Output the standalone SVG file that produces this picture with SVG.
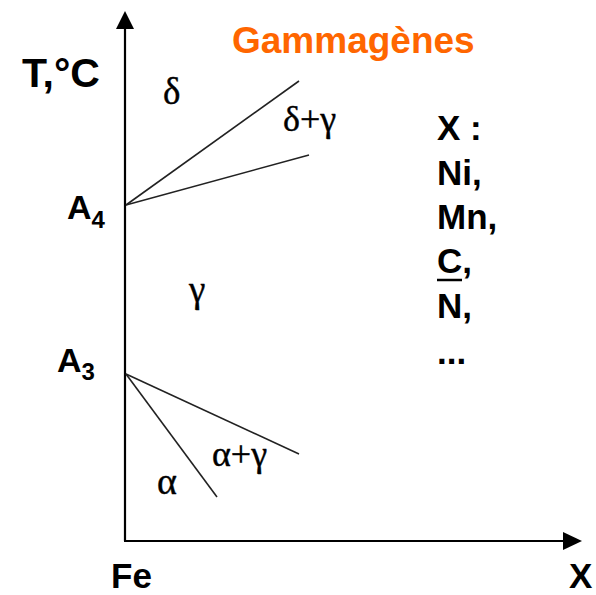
<svg xmlns="http://www.w3.org/2000/svg" width="596" height="595" viewBox="0 0 596 595">
<style>
.b{font-family:"Liberation Sans",Arial,sans-serif;font-weight:bold;fill:#000}
.g{font-family:"Liberation Serif","Times New Roman",serif;fill:#000;stroke:#000;stroke-width:0.4}
.ln{stroke:#222;stroke-width:1.6;fill:none}
.ax{stroke:#000;stroke-width:2.2;fill:none}
</style>
<rect width="596" height="595" fill="#fff"/>
<g id="axes">
<line class="ax" x1="125" y1="541" x2="125" y2="28"/>
<path d="M116,29 L125,11 L134,29 Z" fill="#000"/>
<line class="ax" x1="124" y1="541" x2="564" y2="541" stroke="#333"/>
<path d="M563,532 L582,541 L563,550 Z" fill="#000"/>
</g>
<g id="connectors">
<line class="ln" x1="126" y1="205" x2="299" y2="81"/>
<line class="ln" x1="126" y1="205" x2="309" y2="155"/>
<line class="ln" x1="126" y1="374" x2="299" y2="454"/>
<line class="ln" x1="126" y1="374" x2="217" y2="497"/>
</g>
<g id="title"><text class="b" x="232" y="53" font-size="37" style="fill:#FF6600">Gammagènes</text></g>
<g id="axis-labels">
<text class="b" x="22" y="87" font-size="41">T,°C</text>
<text class="b" x="111" y="588" font-size="35">Fe</text>
<text class="b" x="569" y="588" font-size="35">X</text>
</g>
<g id="A4"><text class="b" x="67" y="219" font-size="34">A<tspan font-size="24" dy="9">4</tspan></text></g>
<g id="A3"><text class="b" x="57" y="372" font-size="34">A<tspan font-size="24" dy="8">3</tspan></text></g>
<g id="phases">
<text class="g" x="163" y="104" font-size="37">δ</text>
<text class="g" x="283" y="131" font-size="36">δ+γ</text>
<text class="g" x="189" y="302" font-size="37">γ</text>
<text class="g" x="212" y="466" font-size="36">α+γ</text>
<text class="g" x="157" y="494" font-size="38">α</text>
</g>
<g id="elements">
<text class="b" x="437" y="140" font-size="35">X :</text>
<text class="b" x="437" y="185" font-size="35">Ni,</text>
<text class="b" x="437" y="229" font-size="35">Mn,</text>
<text class="b" x="437" y="273" font-size="35">C,</text>
<line x1="437" y1="280" x2="462" y2="280" stroke="#000" stroke-width="2.5"/>
<text class="b" x="437" y="318" font-size="35">N,</text>
<text class="b" x="437" y="364" font-size="35">...</text>
</g>
</svg>
